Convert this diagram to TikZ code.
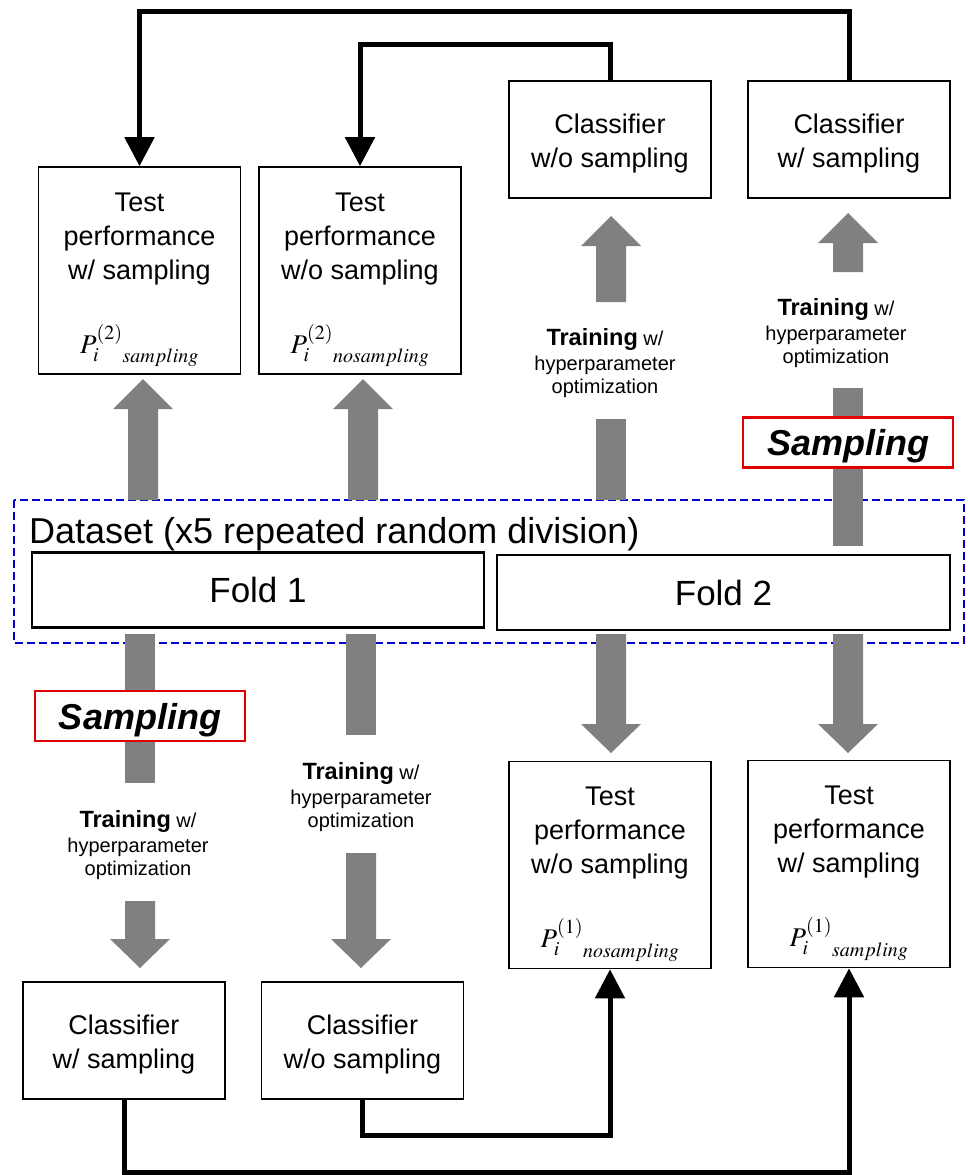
\documentclass[tikz,border=0pt]{standalone}
\usepackage{mathptmx}
\usepackage[no-math]{fontspec}
\setmainfont{Liberation Sans}
\usetikzlibrary{arrows.meta}
\tikzset{
	box/.style = {draw, line width=1.6pt, fill=white, align=center, inner sep=0pt,
		minimum width=202pt, font=\fontsize{27}{34}\selectfont},
	testbox/.style = {box, minimum height=207pt},
	clfbox/.style = {box, minimum height=117pt},
	foldbox/.style = {draw, line width=2.6pt, fill=white, minimum width=452pt,
		minimum height=75pt, font=\fontsize{35}{40}\selectfont},
	sampbox/.style = {draw=markred, line width=2.2pt, fill=white, minimum width=210pt,
		minimum height=50pt, text depth=0pt, font=\fontsize{36}{40}\selectfont\bfseries\itshape},
	trainlabel/.style = {align=center, inner sep=0pt, font=\fontsize{20}{23}\selectfont},
	feedback/.style = {line width=5pt, -{Triangle[width=29pt,length=29pt]}}
}
\def\fatarrow(#1)(#2:#3:#4)% Syntax: (x) (tip:head base:tail)
	{ \fill[fatgray] ({#1-15},#4) -- ({#1-15},#3) -- ({#1-30},#3) -- (#1,#2) --
		({#1+30},#3) -- ({#1+15},#3) -- ({#1+15},#4) -- cycle; }
\def\fatshaft(#1)(#2:#3)% Syntax: (x) (from:to)
	{ \fill[fatgray] ({#1-15},#2) rectangle ({#1+15},#3); }
\newcommand\perf[2]{${P_i^{(#1)}}_{#2}$}
\newcommand\training{{\fontsize{23.5}{23}\selectfont\bfseries Training} w/\\[2pt]hyperparameter\\optimization}
\definecolor{fatgray}{RGB}{128,128,128}
\definecolor{dashblue}{RGB}{0,0,204}
\definecolor{markred}{RGB}{224,0,0}

\begin{document}
\begin{tikzpicture}[x=1pt, y=-1pt]
	\useasboundingbox (0,0) rectangle (967,1175);
	% dataset frame
	\draw[dashblue, line width=2pt, dash pattern=on 8pt off 4pt] (14,500) rectangle (964,643);
	\node[anchor=base west, inner sep=0pt, font=\fontsize{36}{40}\selectfont] (dstitle) at (29,543)
		{Dataset (x5 repeated random division)};
	% broad arrows, upper half
	\fatarrow(143)(379:409:500)
	\fatarrow(363)(379:409:500)
	\fatarrow(611)(216:246:302)
	\fatshaft(611)(419:500)
	\fatarrow(848)(213:243:272)
	\fatshaft(848)(388:546)
	% broad arrows, lower half
	\fatshaft(140)(634:783)
	\fatarrow(140)(968:939:901)
	\fatshaft(361)(634:735)
	\fatarrow(361)(968:939:853)
	\fatarrow(611)(753:724:634)
	\fatarrow(848)(753:724:634)
	% folds
	\node[foldbox] (fold1) at (258,590) {Fold 1};
	\node[foldbox, minimum width=453pt] (fold2) at (723.5,592.5) {Fold 2};
	\node[sampbox] (sampL) at (140,716) {Sampling};
	\node[sampbox] (sampR) at (848,442.5) {Sampling};
	% training labels
	\node[trainlabel] (trainA) at (138,845) {\training};
	\node[trainlabel] (trainB) at (361,797) {\training};
	\node[trainlabel] (trainC) at (605,363) {\training};
	\node[trainlabel] (trainD) at (836,333) {\training};
	% upper boxes
	\node[testbox] (tpsU) at (139.5,270.5)
		{\rule{0pt}{37pt}Test\\performance\\w/ sampling\\[38pt]\perf{2}{sampling}};
	\node[testbox] (tpnU) at (360,270.5)
		{\rule{0pt}{37pt}Test\\performance\\w/o sampling\\[38pt]\perf{2}{nosampling}};
	\node[clfbox] (clnU) at (610,139.5) {\rule{0pt}{28pt}Classifier\\w/o sampling};
	\node[clfbox] (clsU) at (849,139.5) {\rule{0pt}{28pt}Classifier\\w/ sampling};
	% lower boxes
	\node[clfbox] (clsL) at (124,1040.5) {\rule{0pt}{28pt}Classifier\\w/ sampling};
	\node[clfbox] (clnL) at (362.5,1040.5) {\rule{0pt}{28pt}Classifier\\w/o sampling};
	\node[testbox] (tpnL) at (610,865)
		{\rule{0pt}{37pt}Test\\performance\\w/o sampling\\[38pt]\perf{1}{nosampling}};
	\node[testbox] (tpsL) at (849,864)
		{\rule{0pt}{37pt}Test\\performance\\w/ sampling\\[38pt]\perf{1}{sampling}};
	% feedback of the classifiers
	\draw[feedback] (clsU.north) -- ++(0,-69) -| (tpsU.north);
	\draw[feedback] (clnU.north) -- ++(0,-36) -| (tpnU.north);
	\draw[feedback] (clsL.south) -- ++(0,73) -| (tpsL.south);
	\draw[feedback] (clnL.south) -- ++(0,36) -| (tpnL.south);
\end{tikzpicture}
\end{document}
